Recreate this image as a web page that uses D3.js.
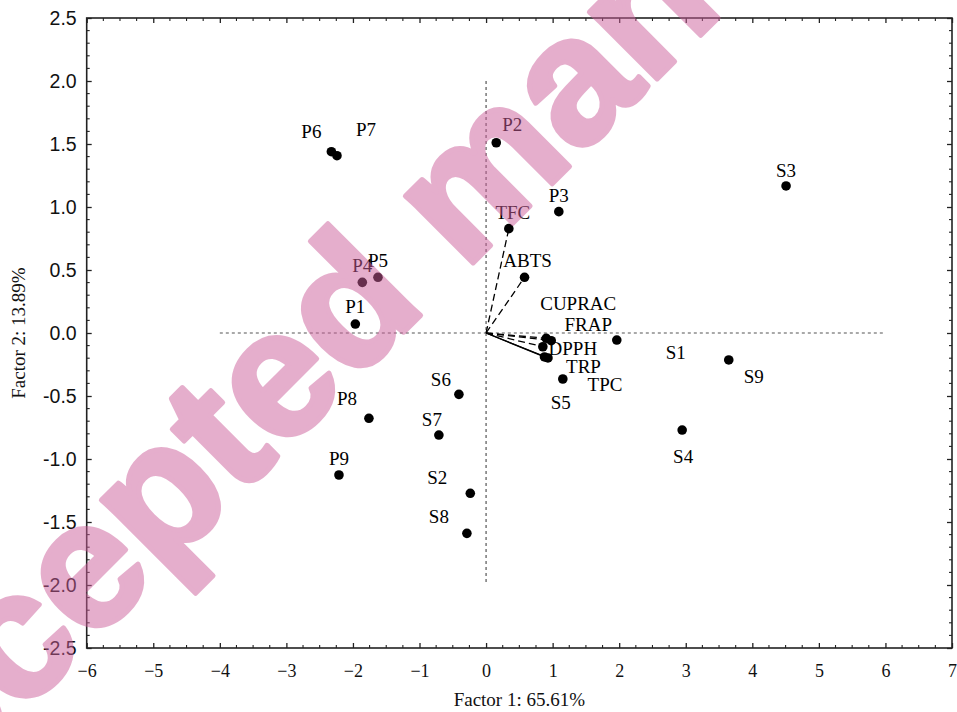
<!DOCTYPE html>
<html>
<head>
<meta charset="utf-8">
<script src="https://cdn.jsdelivr.net/npm/d3@7"></script>
<style>
  html, body { margin: 0; padding: 0; background: #fff; }
  svg { display: block; }
</style>
</head>
<body>
<svg id="chart" width="957" height="712"></svg>
<script>
// PCA projection: sample scores and variable loadings on Factor 1 / Factor 2
const sampleNames = ["P1","P2","P3","P4","P5","P6","P7","P8","P9",
                     "S1","S2","S3","S4","S5","S6","S7","S8","S9"];
const sampleF1 = [-1.964, 0.153, 1.093, -1.859, -1.624, -2.324, -2.24, -1.76, -2.21,
                   1.964, -0.237, 4.507, 2.946, 1.153, -0.408, -0.709, -0.288, 3.646];
const sampleF2 = [0.071, 1.51, 0.963, 0.402, 0.442, 1.439, 1.407, -0.677, -1.127,
                  -0.056, -1.272, 1.167, -0.770, -0.365, -0.487, -0.810, -1.590, -0.214];

const variableNames = ["TFC","ABTS","CUPRAC","FRAP","DPPH","TRP","TPC"];
const variableF1 = [0.342, 0.578, 0.904, 0.979, 0.853, 0.878, 0.93];
const variableF2 = [0.828, 0.442, -0.042, -0.061, -0.109, -0.19, -0.198];

const xTicks = [-6,-5,-4,-3,-2,-1,0,1,2,3,4,5,6,7];
const yTicks = [-2.5,-2.0,-1.5,-1.0,-0.5,0.0,0.5,1.0,1.5,2.0,2.5];

const xTitle = "Factor 1: 65.61%";
const yTitle = "Factor 2: 13.89%";
const stampText = "Accepted manuscript";

// ---- layout and styling ----
const W = 957, H = 712;
const plot = { left: 86.7, right: 952, top: 18, bottom: 648 };
const serif = "'Liberation Serif','Times New Roman',serif";
const sans = "'Liberation Sans',Arial,sans-serif";

// label placement relative to each marker (dx to text centre, dy to baseline)
const labelOffset = {
  P1:[0,-11], P2:[16,-12], P3:[0,-10], P4:[0,-10], P5:[0,-10], P6:[-20,-14], P7:[29,-20],
  P8:[-22,-13], P9:[0,-10], S1:[59,19], S2:[-33,-9], S3:[0,-9], S4:[1,33], S5:[-2,30],
  S6:[-18,-8], S7:[-7,-9], S8:[-28,-10], S9:[25,23],
  TFC:[4,-10], ABTS:[3,-10], CUPRAC:[32,-28], FRAP:[37,-10], DPPH:[30,8], TRP:[39,16], TPC:[57,33]
};
const vectorDash = { TFC:"7,4", ABTS:"7,4", CUPRAC:"7,4", FRAP:"7,4", DPPH:"7,4", TRP:null, TPC:null };

const svg = d3.select("#chart");
const x = d3.scaleLinear().domain([-6, 7]).range([plot.left, plot.right]);
const y = d3.scaleLinear().domain([-2.5, 2.5]).range([plot.bottom, plot.top]);

const frameColor = "#222";

// minor tick positions
const xMinor = d3.range(-6, 7.0001, 0.25).filter(v => Math.abs(v - Math.round(v)) > 1e-6);
const yMinor = d3.range(-25, 26).map(v => v / 10).filter(v => Math.abs(v * 2 - Math.round(v * 2)) > 1e-6);

// bottom axis with labels
const gx = svg.append("g").attr("transform", `translate(0,${plot.bottom})`)
  .call(d3.axisBottom(x).tickValues(xTicks).tickSizeInner(-5).tickSizeOuter(0).tickPadding(16)
        .tickFormat(d3.format("d")));
gx.select(".domain").remove();
gx.selectAll("line").attr("stroke", frameColor).attr("stroke-width", 1.3);
gx.selectAll("text").attr("font-family", serif).attr("font-size", 18).attr("fill", "#111");

// left axis with labels
const gy = svg.append("g").attr("transform", `translate(${plot.left},0)`)
  .call(d3.axisLeft(y).tickValues(yTicks).tickSizeInner(-5).tickSizeOuter(0).tickPadding(10)
        .tickFormat(d3.format(".1f")));
gy.select(".domain").remove();
gy.selectAll("line").attr("stroke", frameColor).attr("stroke-width", 1.3);
gy.selectAll("text").attr("font-family", sans).attr("font-size", 19.5).attr("fill", "#111")
  .text(d => d3.format(".1f")(d).replace("−", "-"));

// top and right mirror ticks
const gt = svg.append("g").attr("transform", `translate(0,${plot.top})`)
  .call(d3.axisTop(x).tickValues(xTicks).tickSizeInner(-5).tickSizeOuter(0).tickFormat(""));
gt.select(".domain").remove();
gt.selectAll("line").attr("stroke", frameColor).attr("stroke-width", 1.3);
const gr = svg.append("g").attr("transform", `translate(${plot.right},0)`)
  .call(d3.axisRight(y).tickValues(yTicks).tickSizeInner(-5).tickSizeOuter(0).tickFormat(""));
gr.select(".domain").remove();
gr.selectAll("line").attr("stroke", frameColor).attr("stroke-width", 1.3);

// minor ticks on all four sides
const minor = svg.append("g").attr("stroke", frameColor).attr("stroke-width", 1.1);
xMinor.forEach(v => {
  minor.append("line").attr("x1", x(v)).attr("x2", x(v)).attr("y1", plot.bottom).attr("y2", plot.bottom - 3);
  minor.append("line").attr("x1", x(v)).attr("x2", x(v)).attr("y1", plot.top).attr("y2", plot.top + 3);
});
yMinor.forEach(v => {
  minor.append("line").attr("x1", plot.left).attr("x2", plot.left + 3).attr("y1", y(v)).attr("y2", y(v));
  minor.append("line").attr("x1", plot.right).attr("x2", plot.right - 3).attr("y1", y(v)).attr("y2", y(v));
});

// frame
svg.append("rect")
  .attr("x", plot.left).attr("y", plot.top)
  .attr("width", plot.right - plot.left).attr("height", plot.bottom - plot.top)
  .attr("fill", "none").attr("stroke", frameColor).attr("stroke-width", 1.6);

// zero reference lines
svg.append("line").attr("x1", x(-4)).attr("x2", x(6)).attr("y1", y(0)).attr("y2", y(0))
  .attr("stroke", "#555").attr("stroke-width", 1.2).attr("stroke-dasharray", "3,3");
svg.append("line").attr("x1", x(0)).attr("x2", x(0)).attr("y1", y(2)).attr("y2", y(-2))
  .attr("stroke", "#555").attr("stroke-width", 1.2).attr("stroke-dasharray", "3,3");

// loading vectors
const variables = variableNames.map((n, i) => ({ name: n, f1: variableF1[i], f2: variableF2[i] }));
svg.append("g").selectAll("line").data(variables).join("line")
  .attr("x1", x(0)).attr("y1", y(0))
  .attr("x2", d => x(d.f1)).attr("y2", d => y(d.f2))
  .attr("stroke", "#000").attr("stroke-width", 1.3)
  .attr("stroke-dasharray", d => vectorDash[d.name]);

// markers
const samples = sampleNames.map((n, i) => ({ name: n, f1: sampleF1[i], f2: sampleF2[i] }));
const allPoints = samples.concat(variables);
svg.append("g").selectAll("circle").data(allPoints).join("circle")
  .attr("cx", d => x(d.f1)).attr("cy", d => y(d.f2)).attr("r", 4.8).attr("fill", "#000");

// point labels
svg.append("g").selectAll("text").data(allPoints).join("text")
  .attr("x", d => x(d.f1) + labelOffset[d.name][0])
  .attr("y", d => y(d.f2) + labelOffset[d.name][1])
  .attr("text-anchor", "middle")
  .attr("font-family", serif).attr("font-size", 19).attr("fill", "#000")
  .text(d => d.name);

// axis titles
svg.append("text").attr("x", (plot.left + plot.right) / 2).attr("y", 706)
  .attr("text-anchor", "middle").attr("font-family", serif).attr("font-size", 19).attr("fill", "#111")
  .text(xTitle);
svg.append("text").attr("transform", `translate(25,${(plot.top + plot.bottom) / 2}) rotate(-90)`)
  .attr("text-anchor", "middle").attr("font-family", serif).attr("font-size", 19).attr("fill", "#111")
  .text(yTitle);

// translucent stamp across the figure (stroke thickens the bold face)
svg.append("text")
  .attr("transform", "translate(-144,880) rotate(-45)")
  .attr("font-family", sans).attr("font-weight", "bold").attr("font-size", 180)
  .attr("fill", "rgb(205,95,155)").attr("stroke", "rgb(205,95,155)")
  .attr("stroke-width", 5).attr("stroke-linejoin", "round")
  .attr("opacity", 0.5)
  .text(stampText);
</script>
</body>
</html>
